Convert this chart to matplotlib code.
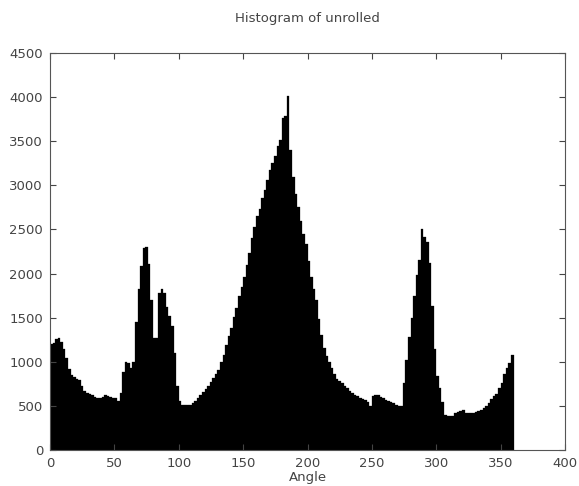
import numpy as np
import matplotlib
matplotlib.use("Agg")
import matplotlib.pyplot as plt

# Bin edges: 2-degree bins from 0 to 360
bin_width = 2
bin_starts = list(range(0, 360, bin_width))

# Counts, one per 2-degree bin
counts = [
    1200, 1210, 1260, 1265, 1220, 1150, 1040, 920, 850, 830,      # 0-18
    810, 790, 720, 670, 645, 630, 620, 600, 595, 595,             # 20-38
    600, 620, 615, 600, 592, 585, 555, 650, 880, 1000,            # 40-58
    985, 930, 1000, 1450, 1830, 2080, 2285, 2300, 2110, 1700,     # 60-78
    1270, 1270, 1780, 1830, 1780, 1620, 1520, 1400, 1100, 720,    # 80-98
    560, 515, 512, 510, 515, 530, 560, 590, 625, 660,             # 100-118
    690, 730, 775, 815, 860, 910, 1000, 1080, 1190, 1290,         # 120-138
    1380, 1510, 1610, 1740, 1850, 1960, 2100, 2230, 2400, 2530,   # 140-158
    2650, 2730, 2860, 2950, 3060, 3170, 3250, 3330, 3450, 3510,   # 160-178
    3760, 3790, 4010, 3400, 3100, 2900, 2760, 2600, 2450, 2340,   # 180-198
    2140, 1960, 1820, 1700, 1480, 1300, 1160, 1070, 1000, 930,    # 200-218
    860, 810, 785, 760, 730, 700, 670, 645, 625, 610,             # 220-238
    590, 575, 565, 545, 500, 610, 625, 620, 605, 590,             # 240-258
    570, 560, 545, 530, 515, 500, 495, 760, 1020, 1285,           # 260-278
    1500, 1750, 1980, 2150, 2500, 2420, 2360, 2120, 1630, 1140,   # 280-298
    840, 700, 540, 400, 390, 385, 385, 415, 430, 440,             # 300-318
    450, 425, 420, 415, 420, 430, 440, 455, 475, 500,             # 320-338
    530, 575, 610, 640, 700, 760, 860, 930, 990, 1080,            # 340-358
]

x_ticks = [0, 50, 100, 150, 200, 250, 300, 350, 400]
y_ticks = [0, 500, 1000, 1500, 2000, 2500, 3000, 3500, 4000, 4500]

text_color = "#444444"

fig = plt.figure(figsize=(5.79, 4.86), dpi=100)
ax = fig.add_axes([50 / 579, 36 / 486, 515 / 579, 397 / 486])

ax.bar(bin_starts, counts, width=bin_width, align="edge",
       color="black", edgecolor="black", linewidth=0.2)

ax.set_xlim(0, 400)
ax.set_ylim(0, 4500)
ax.set_xticks(x_ticks)
ax.set_yticks(y_ticks)

# classic look: ticks inside on all four sides
ax.tick_params(direction="in", top=True, right=True, length=4,
               labelsize=9.5, colors=text_color, pad=5)
for spine in ax.spines.values():
    spine.set_color("#555555")
    spine.set_linewidth(0.8)

ax.set_xlabel("Angle", fontsize=9.5, color=text_color, labelpad=1)
ax.set_title("Histogram of unrolled", fontsize=9.5, color=text_color, pad=22)

fig.savefig("out.png", dpi=100)
